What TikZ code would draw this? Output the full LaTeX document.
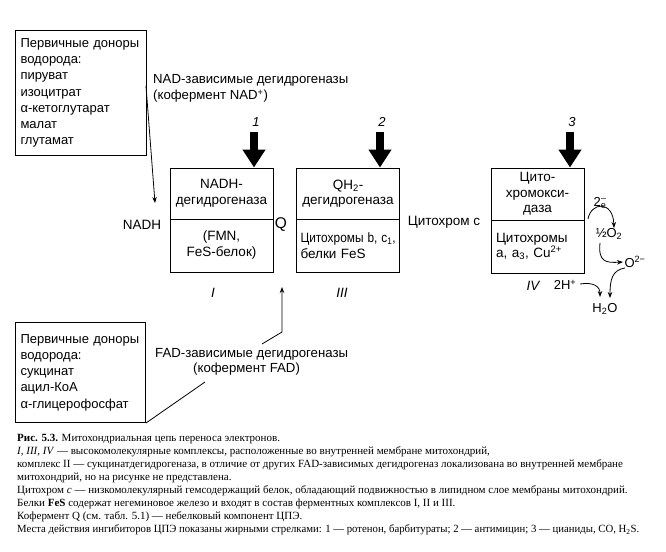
\documentclass[tikz,border=0pt]{standalone}
\usepackage{fontspec}
\setmainfont{Liberation Serif}
\newfontfamily\diagfont{Liberation Sans}
\usetikzlibrary{arrows.meta,calc}
\begin{document}
\begin{tikzpicture}[x=1pt,y=-1pt,
  every node/.style={font=\diagfont\fontsize{13.5pt}{15.5pt}\selectfont, inner sep=0pt},
  box/.style={draw, line width=1pt},
  donor/.style={box, anchor=north west, align=left, inner xsep=5pt, font=\diagfont\fontsize{13pt}{16.2pt}\selectfont},
  conn/.style={line width=0.8pt, -{Stealth[length=6pt,width=4.5pt]}},
  plainline/.style={line width=0.8pt},
  inhib/.style={line width=8pt, -{Triangle[length=18pt,width=22pt]}},
  numlab/.style={font=\diagfont\itshape\fontsize{13pt}{15pt}\selectfont},
  roman/.style={font=\diagfont\itshape\fontsize{13.5pt}{15pt}\selectfont},
  chem/.style={font=\diagfont\fontsize{13pt}{15pt}\selectfont},
  ]
\useasboundingbox (0,0) rectangle (666,551);

% donor boxes
\node[donor, minimum width=131pt, minimum height=125pt, text width=121pt] (don1) at (15,30)
  {Первичные доноры\\водорода:\\пируват\\изоцитрат\\α-кетоглутарат\\малат\\глутамат};
\node[donor, minimum width=130pt, minimum height=100pt, text width=120pt] (don2) at (15,322)
  {Первичные доноры\\водорода:\\сукцинат\\ацил-КоА\\α-глицерофосфат};

% labels
\node[anchor=west, align=left, font=\diagfont\fontsize{13.2pt}{16pt}\selectfont] (nadlab) at (153,88.5)
  {NAD-зависимые дегидрогеназы\\(кофермент NAD\textsuperscript{+})};
\node[anchor=west, align=left, font=\diagfont\fontsize{13.2pt}{14.5pt}\selectfont] (fadlab) at (155,362)
  {FAD-зависимые дегидрогеназы\\\hspace{38pt}(кофермент FAD)};

% complexes
\node[box, minimum width=103pt, minimum height=51pt, align=center] (b1t) at (221.5,193.5) {NADH-\\дегидрогеназа};
\node[box, minimum width=103pt, minimum height=53pt, align=center, font=\diagfont\fontsize{13.5pt}{16pt}\selectfont] (b1b) at (221.5,245.5) {(FMN,\\FeS-белок)};
\node[box, minimum width=103pt, minimum height=51pt, align=center] (b3t) at (348,193.5) {QH\textsubscript{2}-\\дегидрогеназа};
\node[box, minimum height=53pt, text width=95pt, inner xsep=4pt, align=left, font=\diagfont\fontsize{13.5pt}{16pt}\selectfont] (b3b) at (348,245.5) {\scalebox{0.88}[1]{Цитохромы b, c\textsubscript{1},}\\белки FeS};
\node[box, minimum width=93pt, minimum height=52pt, align=center, font=\diagfont\fontsize{13.5pt}{15.5pt}\selectfont] (b4t) at (537.5,194) {Цито-\\хромокси-\\даза};
\node[box, minimum height=53pt, text width=83pt, inner xsep=5pt, align=left] (b4b) at (537.5,246.5) {Цитохромы\\a, a\textsubscript{3}, Cu\textsuperscript{2+}};

\node[roman] (r1) at (213,293) {I};
\node[roman] (r3) at (342,293) {III};
\node[roman] (r4) at (533,286) {IV};

% chain labels
\node (nadh) at (142,225) {NADH};
\node[font=\diagfont\fontsize{15.5pt}{15pt}\selectfont] (q) at (281,225) {Q};
\node (cytc) at (444,222) {Цитохром с};

% inhibitor arrows
\coordinate (i1) at (254,132);
\coordinate (i2) at (380,132);
\coordinate (i3) at (570,132);
\draw[inhib] (i1) -- (i1 |- b1t.north);
\draw[inhib] (i2) -- (i2 |- b3t.north);
\draw[inhib] (i3) -- (i3 |- b4t.north);
\node[numlab] (n1) at (256,122) {1};
\node[numlab] (n2) at (382,122) {2};
\node[numlab] (n3) at (572,122) {3};

% NADH arrow
\coordinate (d1out) at (146,86);
\coordinate (nadhtip) at (155,203);
\draw[conn] (d1out) -- (nadhtip);

% FAD path
\coordinate (fadin) at (205,382);
\coordinate (fadout) at (262,344);
\coordinate (fadbend) at (282,332);
\coordinate (qtip) at (282,287);
\draw[plainline] (don2.south east) -- (fadin);
\draw[conn] (fadout) -- (fadbend) -- (qtip);

% reactions
\node[chem] (e2) at (600,203) {2\textsubscript{e}\llap{\raisebox{5.5pt}{\fontsize{9pt}{9pt}\selectfont –}\hspace{0.3pt}}};
\node[chem] (halfo) at (609,234) {½O\textsubscript{2}};
\node[chem] (o2m) at (635,262) {O\textsuperscript{2−}};
\node[chem] (h2p) at (565,285) {2H\textsuperscript{+}};
\node[chem] (h2o) at (605,309) {H\textsubscript{2}O};

\coordinate (r1s) at (588,219);
\coordinate (r1e) at (614,228);
\draw[conn] (r1s) .. controls (591,202) and (613,200) .. (r1e);
\coordinate (r2s) at (600,243);
\coordinate (r2e) at (623,262);
\draw[conn] (r2s) .. controls (598,262) and (606,263) .. (r2e);
\coordinate (r3s) at (625,268);
\coordinate (r3e) at (610,298);
\draw[conn] (r3s) .. controls (612,270) and (610,280) .. (r3e);
\coordinate (r4s) at (580,284);
\coordinate (r4e) at (600,297);
\draw[conn] (r4s) .. controls (593,282) and (600,286) .. (r4e);

% caption
\node[anchor=north west, align=left, font=\rmfamily\fontsize{11pt}{13pt}\selectfont] (caption) at (17,434)
{\textbf{Рис. 5.3.} Митохондриальная цепь переноса электронов.\\
\textit{I, III, IV} — высокомолекулярные комплексы, расположенные во внутренней мембране митохондрий,\\
комплекс II — сукцинатдегидрогеназа, в отличие от других FAD-зависимых дегидрогеназ локализована во внутренней мембране\\
митохондрий, но на рисунке не представлена.\\
Цитохром \textit{c} — низкомолекулярный гемсодержащий белок, обладающий подвижностью в липидном слое мембраны митохондрий.\\
Белки \textbf{FeS} содержат негеминовое железо и входят в состав ферментных комплексов I, II и III.\\
Кофермент Q (см. табл. 5.1) — небелковый компонент ЦПЭ.\\
\scalebox{0.976}[1]{Места действия ингибиторов ЦПЭ показаны жирными стрелками: 1 — ротенон, барбитураты; 2 — антимицин; 3 — цианиды, CO, H\textsubscript{2}S.}};
\end{tikzpicture}
\end{document}
